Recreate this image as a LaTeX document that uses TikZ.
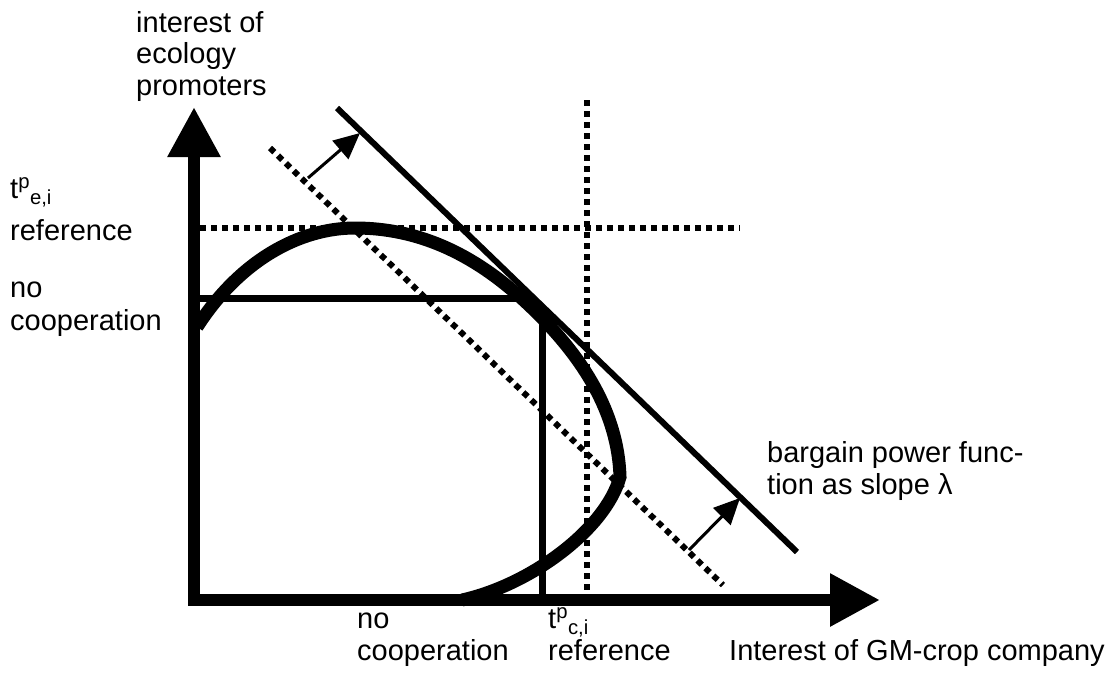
\documentclass[tikz,border=0pt]{standalone}
\usepackage{fontspec}
\setmainfont{Liberation Sans}
\usetikzlibrary{arrows.meta}

\tikzset{
  axis/.style={line width=12pt, line cap=rect, -{Triangle[length=50pt,width=50pt]}},
  curve/.style={line width=13pt},
  solidline/.style={line width=7pt},
  dotline/.style={line width=6pt, dash pattern=on 6pt off 5pt},
  shiftarrow/.style={line width=3pt, -{Triangle[length=26pt,width=24pt]}},
  lbl/.style={anchor=base west, inner sep=0pt, font=\fontsize{29}{34}\selectfont}
}

\begin{document}
\begin{tikzpicture}[x=1pt,y=-1pt]
\useasboundingbox (0,0) rectangle (1115,681);

% Achsen
\coordinate (O) at (194,600);
\coordinate (ytip) at (194,107);
\coordinate (xtip) at (880,600);
\draw[axis] (O) -- (ytip);
\draw[axis] (O) -- (xtip);

% Referenzlinien (gepunktet)
\draw[dotline] (200,228) -- (740,228);
\draw[dotline] (587,100) -- (587,590);
\draw[dotline] (270,148) -- (723,585);

% Tangente (Verhandlungsmacht)
\draw[solidline, line width=6pt] (337,108) -- (797,552);

% keine Kooperation
\draw[solidline] (194,298) -- (522,298);
\draw[solidline] (542,322) -- (542,600);

% Nutzengrenze
\draw[curve] (197,327) .. controls (240,260) and (300,228) .. (355,228)
  .. controls (440,228) and (500,275) .. (542,318)
  .. controls (580,357) and (618,410) .. (620,477)
  .. controls (605,530) and (530,585) .. (462,600);

% Verschiebung
\coordinate (s1) at (308,178);
\coordinate (e1) at (360,133);
\coordinate (s2) at (689,550);
\coordinate (e2) at (740,498);
\draw[shiftarrow] (s1) -- (e1);
\draw[shiftarrow] (s2) -- (e2);

% Beschriftung y-Achse
\node[lbl] (yl1) at (136,32) {interest of};
\node[lbl] (yl2) at (136,63) {ecology};
\node[lbl] (yl3) at (136,95) {promoters};

\node[lbl] (te) at (10,198) {t\textsuperscript{p}\textsubscript{e,i}};
\node[lbl] (refe) at (10,240) {reference};
\node[lbl] (noe) at (10,297) {no};
\node[lbl] (coope) at (10,330) {cooperation};

% Beschriftung x-Achse
\node[lbl] (noc) at (357,628) {no};
\node[lbl] (coopc) at (357,660) {cooperation};
\node[lbl] (tc) at (548,628) {t\textsuperscript{p}\textsubscript{c,i}};
\node[lbl] (refc) at (548,660) {reference};
\node[lbl] (xl) at (729,660) {Interest of GM-crop company};

% Steigung
\node[lbl] (bp1) at (767,462) {bargain power func-};
\node[lbl] (bp2) at (767,494) {tion as slope λ};

\end{tikzpicture}
\end{document}
